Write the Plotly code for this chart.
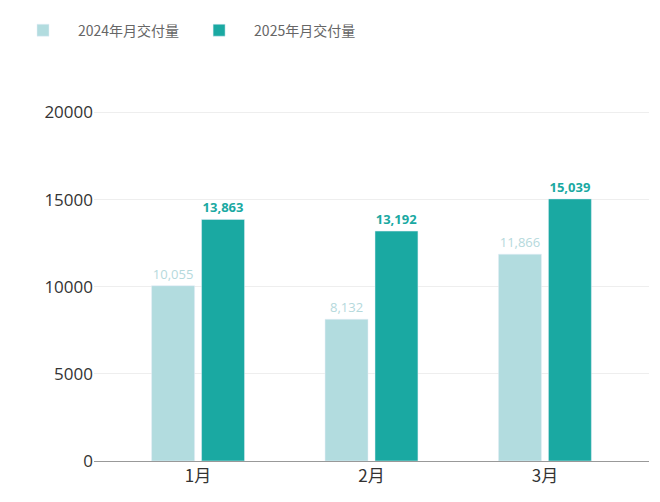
import plotly.graph_objects as go

categories = ["1月", "2月", "3月"]
v2024 = [10055, 8132, 11866]
v2025 = [13863, 13192, 15039]

light = "#b2dcdf"
dark = "#1aa9a2"

fig = go.Figure()
fig.add_bar(x=categories, y=v2024, name="2024年月交付量", marker_color=light,
            text=[f"{v:,}" for v in v2024], textposition="outside",
            textfont=dict(color="#b5d9dc", size=13, family="Open Sans"), cliponaxis=False)
fig.add_bar(x=categories, y=v2025, name="2025年月交付量", marker_color=dark,
            text=[f"<b>{v:,}</b>" for v in v2025], textposition="outside",
            textfont=dict(color=dark, size=13, family="Open Sans"), cliponaxis=False)

fig.update_layout(
    width=660, height=502, plot_bgcolor="white", paper_bgcolor="white",
    margin=dict(l=86, r=19, t=87, b=49, autoexpand=False),
    barmode="group", bargap=0.424, bargroupgap=0.14,
    font=dict(family="Noto Sans CJK SC", color="#333"),
    legend=dict(orientation="h", xref="container", yref="container", x=0.0, y=0.955,
                xanchor="left", yanchor="middle",
                font=dict(size=14, color="#666"), itemwidth=60, traceorder="normal"),
    xaxis=dict(range=[-0.6, 2.6], showline=True, linecolor="#999", linewidth=1,
               tickfont=dict(size=17, color="#333"), ticks="", automargin=False),
    yaxis=dict(range=[0, 21000], tickvals=[0, 5000, 10000, 15000, 20000], tickformat="d",
               showgrid=True, gridcolor="#eeeeee", zeroline=False, automargin=False,
               tickfont=dict(size=17, color="#333", family="Open Sans"), ticksuffix="  "),
)
fig.write_html("out.html")
